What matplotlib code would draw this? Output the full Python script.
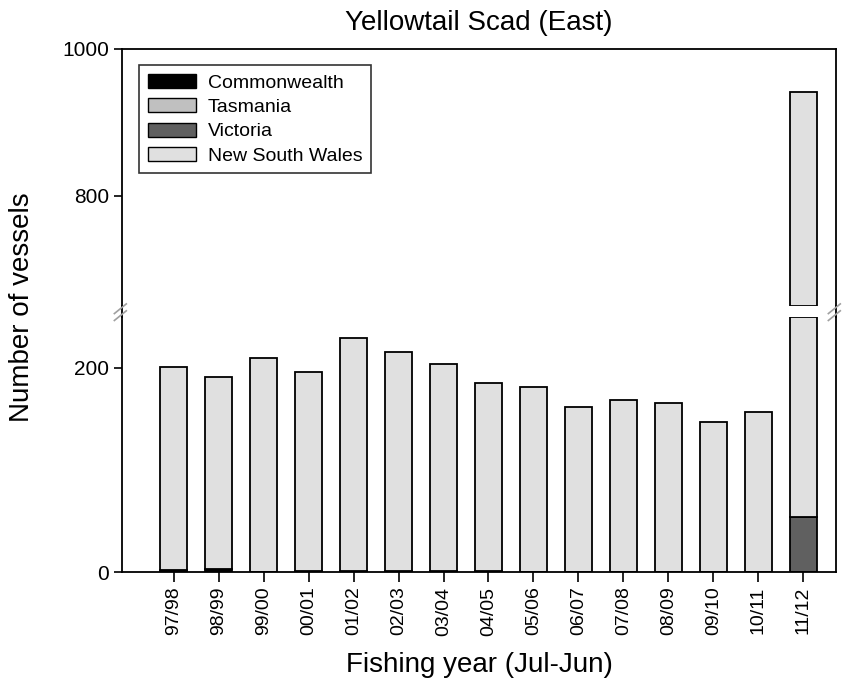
import numpy as np
import matplotlib
matplotlib.use('Agg')
import matplotlib.pyplot as plt
from matplotlib.lines import Line2D

plt.rcParams['font.family'] = ['Liberation Sans', 'DejaVu Sans']

years = ['97/98', '98/99', '99/00', '00/01', '01/02', '02/03', '03/04', '04/05',
         '05/06', '06/07', '07/08', '08/09', '09/10', '10/11', '11/12']
totals = [201, 191, 210, 196, 229, 216, 204, 185, 181, 162, 169, 166, 147, 157, 941]
commonwealth = [2, 3, 0, 1, 1, 1, 1, 1, 0, 0, 0, 0, 0, 0, 0]
tasmania = [0, 0, 0, 0, 0, 0, 0, 0, 0, 0, 0, 0, 0, 0, 0]
victoria = [0, 0, 0, 0, 0, 0, 0, 0, 0, 0, 0, 0, 0, 0, 54]
nsw = [t - c - ta - v for t, c, ta, v in zip(totals, commonwealth, tasmania, victoria)]

series = [('Commonwealth', commonwealth, '#000000'),
          ('Tasmania', tasmania, '#c0c0c0'),
          ('Victoria', victoria, '#606060'),
          ('New South Wales', nsw, '#e0e0e0')]

fig = plt.figure(figsize=(8.51, 6.9), dpi=100)
left, right = 0.1434, 0.9824
ax_lo = fig.add_axes([left, 0.171, right - left, 0.5406 - 0.171])
ax_hi = fig.add_axes([left, 0.5565, right - left, 0.929 - 0.5565])

lims = {ax_lo: (0, 250), ax_hi: (650, 1000)}
x = np.arange(len(years))
w = 0.6

for ax, (lo, hi) in lims.items():
    base = np.zeros(len(years))
    for name, vals, col in series:
        vals = np.array(vals, dtype=float)
        b = np.clip(base, lo, hi)
        t = np.clip(base + vals, lo, hi)
        h = t - b
        m = h > 0
        ax.bar(x[m], h[m], bottom=b[m], width=w, color=col, edgecolor='black', linewidth=1.3)
        base = base + vals
    ax.set_ylim(lo, hi)
    ax.set_xlim(-1.15, 14.73)
    for s in ax.spines.values():
        s.set_linewidth(1.3)
    ax.tick_params(axis='y', direction='out', length=6, width=1.2, labelsize=15)

ax_lo.spines['top'].set_visible(False)
ax_hi.spines['bottom'].set_visible(False)
ax_lo.set_yticks([0, 200])
ax_hi.set_yticks([800, 1000])
ax_hi.set_xticks([])
ax_lo.set_xticks(x)
ax_lo.set_xticklabels(years, rotation=90, fontsize=14)
ax_lo.tick_params(axis='x', direction='out', length=7, width=1.2)

# continuous spines through the break, plus break marks
y_lo_top = 0.5406
y_hi_bot = 0.5565
for xf in (left, right):
    fig.add_artist(Line2D([xf, xf], [y_lo_top, y_hi_bot], color='black', lw=1.3))
    for dy in (-0.004, 0.006):
        yc = (y_lo_top + y_hi_bot) / 2 + dy
        fig.add_artist(Line2D([xf - 0.009, xf + 0.005], [yc - 0.009, yc + 0.005],
                              color='#a0a0a0', lw=1.2))

handles = [plt.Rectangle((0, 0), 1, 1, facecolor=col, edgecolor='black', linewidth=1)
           for _, _, col in series]
leg = ax_hi.legend(handles, [s[0] for s in series], loc='upper left', fontsize=14,
                   frameon=True, fancybox=False, edgecolor='black', borderpad=0.45,
                   handlelength=2.5, handleheight=0.75, labelspacing=0.33,
                   handletextpad=0.6, bbox_to_anchor=(0.01, 0.975))
leg.get_frame().set_linewidth(1.2)

fig.text((left + right) / 2, 0.966, 'Yellowtail Scad (East)', ha='center', va='center', fontsize=20)
fig.text(0.026, 0.555, 'Number of vessels', rotation=90, ha='center', va='center', fontsize=20)
fig.text((left + right) / 2, 0.036, 'Fishing year (Jul-Jun)', ha='center', va='center', fontsize=20)

fig.savefig('out.png', dpi=100)
